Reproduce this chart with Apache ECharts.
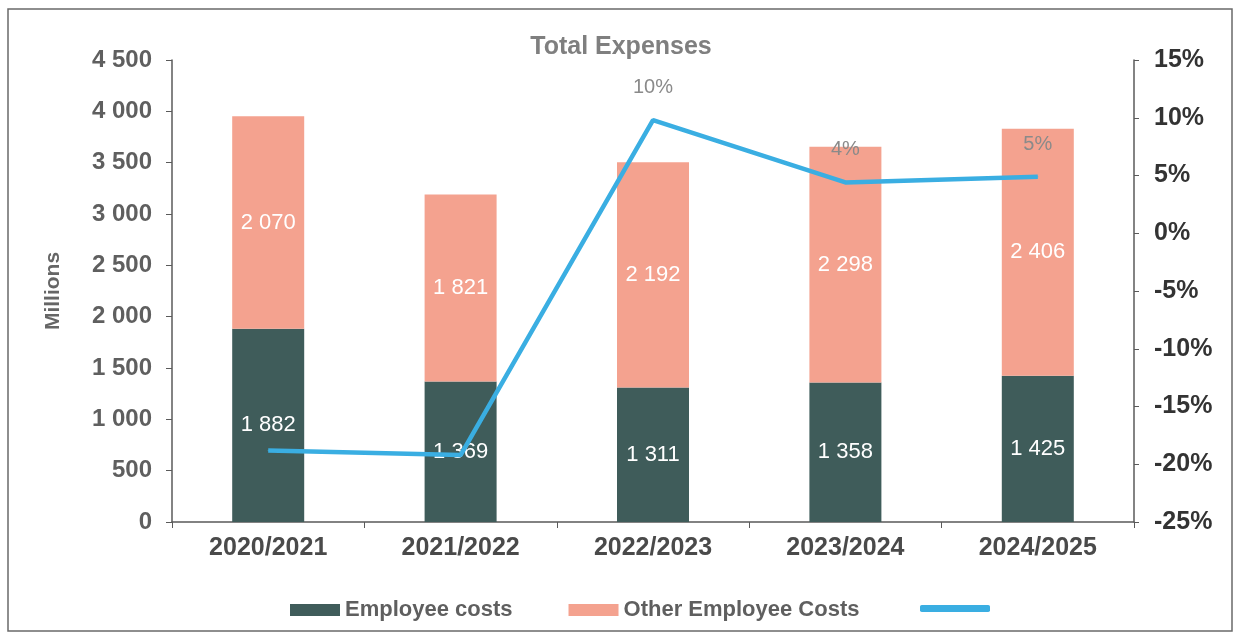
<!DOCTYPE html>
<html>
<head>
<meta charset="utf-8">
<style>
  html, body { margin: 0; padding: 0; background: #ffffff; }
  #chart { width: 1242px; height: 636px; }
</style>
<script src="https://cdn.jsdelivr.net/npm/echarts@6/dist/echarts.min.js"></script>
</head>
<body>
<div id="chart"></div>
<script>
// Financial years on the category axis
const years = ['2020/2021', '2021/2022', '2022/2023', '2023/2024', '2024/2025'];
// Stacked expense components, in millions
const employeeCosts = [1882, 1369, 1311, 1358, 1425];
const otherEmployeeCosts = [2070, 1821, 2192, 2298, 2406];
// Year-on-year change in total expenses, in percent
const growthPct = [-18.8, -19.2, 9.8, 4.4, 4.9];
const growthLabelShown = [false, false, true, true, true];
// Axis scales
const leftAxis = { min: 0, max: 4500, interval: 500 };
const rightAxis = { min: -25, max: 15, interval: 5 };

const FONT = '"Liberation Sans", Arial, sans-serif';
const AXIS_COLOR = '#5a5a5a';

function spaced(n) {
  return String(Math.round(n)).replace(/\B(?=(\d{3})+(?!\d))/g, ' ');
}

const chart = echarts.init(document.getElementById('chart'), null, { renderer: 'canvas' });

const growthData = growthPct.map((v, i) => ({
  value: v,
  label: { show: growthLabelShown[i] }
}));

const barLabel = {
  show: true, position: 'inside', color: '#ffffff',
  fontFamily: FONT, fontSize: 22,
  formatter: p => spaced(p.value)
};

chart.setOption({
  animation: false,
  backgroundColor: '#ffffff',
  textStyle: { fontFamily: FONT },
  graphic: [{
    type: 'rect',
    shape: { x: 8, y: 9, width: 1224, height: 622 },
    style: { fill: 'none', stroke: '#6a6a6a', lineWidth: 1.5 },
    silent: true
  }],
  title: {
    text: 'Total Expenses',
    left: 'center',
    top: 30,
    textStyle: { fontFamily: FONT, fontSize: 25, fontWeight: 'bold', color: '#7f7f7f' }
  },
  legend: [{
    left: 285,
    top: 594,
    itemWidth: 50,
    itemHeight: 12,
    itemGap: 56,
    textStyle: { fontFamily: FONT, fontSize: 22, fontWeight: 'bold', color: '#5f5f5f' },
    data: [
      { name: 'Employee costs', icon: 'rect' },
      { name: 'Other Employee Costs', icon: 'rect' }
    ]
  }, {
    left: 915,
    top: 600,
    itemWidth: 70,
    itemHeight: 7,
    textStyle: { fontSize: 1 },
    data: [{ name: 'Growth', icon: 'roundRect' }],
    formatter: () => ''
  }],
  grid: { left: 172, right: 108, top: 60, bottom: 114 },
  xAxis: {
    type: 'category',
    data: years,
    axisLine: { lineStyle: { color: AXIS_COLOR, width: 1.5 } },
    axisTick: { show: true, alignWithLabel: false, length: 6, lineStyle: { color: AXIS_COLOR } },
    axisLabel: { fontFamily: FONT, fontSize: 25, fontWeight: 'bold', color: '#4a4a4a', margin: 14 }
  },
  yAxis: [{
    type: 'value',
    min: leftAxis.min, max: leftAxis.max, interval: leftAxis.interval,
    name: 'Millions',
    nameLocation: 'middle',
    nameRotate: 90,
    nameGap: 108,
    nameTextStyle: { fontFamily: FONT, fontSize: 21, fontWeight: 'bold', color: '#666666' },
    axisLine: { show: true, lineStyle: { color: AXIS_COLOR, width: 1.5 } },
    axisTick: { show: true, length: 6, lineStyle: { color: AXIS_COLOR } },
    splitLine: { show: false },
    axisLabel: { fontFamily: FONT, fontSize: 24, fontWeight: 'bold', color: '#5f5f5f', margin: 20, formatter: v => spaced(v) }
  }, {
    type: 'value',
    position: 'right',
    min: rightAxis.min, max: rightAxis.max, interval: rightAxis.interval,
    axisLine: { show: true, lineStyle: { color: AXIS_COLOR, width: 1.5 } },
    axisTick: { show: true, length: 5, lineStyle: { color: AXIS_COLOR } },
    splitLine: { show: false },
    axisLabel: { fontFamily: FONT, fontSize: 25, fontWeight: 'bold', color: '#333333', margin: 20, formatter: v => v + '%' }
  }],
  series: [{
    name: 'Employee costs',
    type: 'bar',
    stack: 'total',
    barWidth: 72,
    data: employeeCosts,
    itemStyle: { color: '#3f5c5a' },
    label: barLabel
  }, {
    name: 'Other Employee Costs',
    type: 'bar',
    stack: 'total',
    barWidth: 72,
    data: otherEmployeeCosts,
    itemStyle: { color: '#f4a28f' },
    label: barLabel
  }, {
    name: 'Growth',
    type: 'line',
    yAxisIndex: 1,
    data: growthData,
    symbol: 'circle',
    symbolSize: 1,
    showSymbol: true,
    itemStyle: { color: '#3aaee2' },
    lineStyle: { color: '#3aaee2', width: 4.5 },
    label: {
      position: 'top', distance: 22,
      fontFamily: FONT, fontSize: 20, color: '#8a8a8a',
      formatter: p => Math.round(p.value) + '%'
    },
    z: 5
  }]
});
</script>
</body>
</html>
